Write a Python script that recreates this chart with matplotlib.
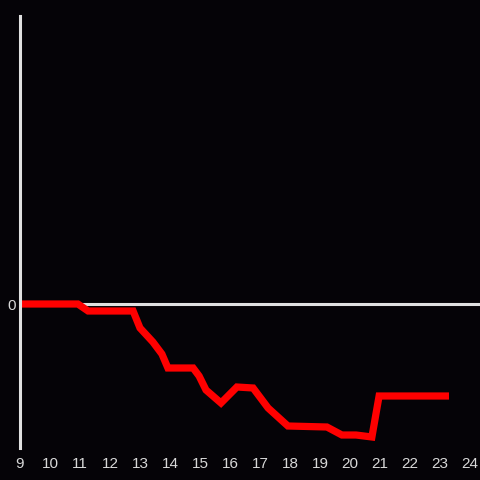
import matplotlib.pyplot as plt

# time of day (hours) and relative value
hours = [9.0, 10.93, 11.27, 12.77, 13.0, 13.43, 13.73, 13.93, 14.77, 14.97,
         15.2, 15.7, 16.23, 16.77, 17.27, 17.93, 19.23, 19.73, 20.2, 20.73,
         20.97, 23.3]
values = [0, 0, -7, -7, -24, -38, -50, -64, -64, -72,
          -86, -99, -83, -84, -104, -122, -123, -131, -131, -133,
          -92, -92]
xticks = list(range(9, 25))

bg = '#050307'
fg = '#e0e0e0'

fig = plt.figure(figsize=(4.8, 4.8), dpi=100, facecolor=bg)
ax = fig.add_axes([20 / 480, 1 - 448 / 480, 460 / 480, 432 / 480], facecolor=bg)

ax.axhline(0, color=fg, lw=2.2, zorder=1)
ax.plot(hours, values, color='#ff0000', lw=5.2, solid_joinstyle='miter',
        solid_capstyle='butt', zorder=2)

ax.set_xlim(9, 24 + 10 / 30)
ax.set_ylim(-144, 288)

for s in ['top', 'right', 'bottom']:
    ax.spines[s].set_visible(False)
ax.spines['left'].set_color(fg)
ax.spines['left'].set_linewidth(2.2)

ax.set_xticks(xticks)
ax.set_xticklabels([str(t) for t in xticks])
ax.set_yticks([0])
ax.set_yticklabels(['0'])
ax.tick_params(axis='both', length=0, colors='#d8d8d8', labelsize=11)
ax.tick_params(axis='x', pad=6.5)
ax.tick_params(axis='y', pad=3)
for lab in ax.get_xticklabels() + ax.get_yticklabels():
    lab.set_fontfamily('Liberation Sans')

fig.savefig('out.png', dpi=100, facecolor=bg)
